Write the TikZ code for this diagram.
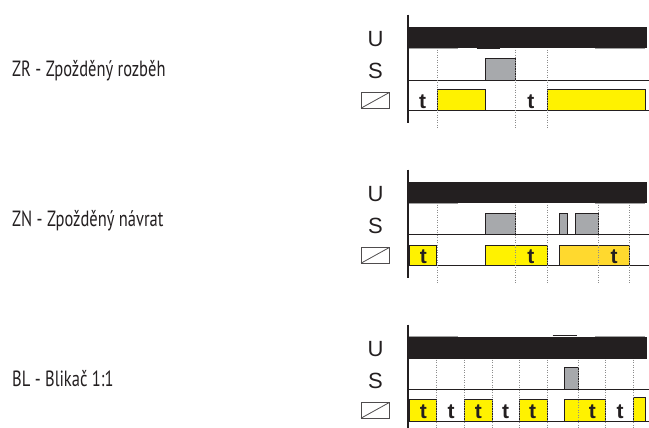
\documentclass[tikz,border=0pt]{standalone}
\usepackage{fontspec}
\setmainfont{Liberation Sans}
\newfontfamily\labelfont[FakeStretch=0.75]{PT Sans}
\definecolor{ink}{HTML}{231F20}
\definecolor{sgray}{HTML}{A7A9AC}
\definecolor{relyel}{HTML}{FFF200}
\definecolor{relgold}{HTML}{FFD92E}
\definecolor{dotgray}{HTML}{8C8C8C}
\definecolor{ghost}{HTML}{A0A0A0}
\tikzset{
  x=1pt, y=-1pt,
  axisline/.style={draw=ink, line width=1.2pt},
  baseline/.style={draw=ink, line width=1pt},
  ubar/.style={fill=ink, draw=none},
  sbox/.style={fill=sgray, draw=ink, line width=0.8pt},
  ybox/.style={fill=relyel, draw=ink, line width=0.8pt},
  gbox/.style={fill=relgold, draw=ink, line width=0.8pt},
  tick/.style={draw=dotgray, line width=0.6pt, dash pattern=on 1pt off 1.5pt},
  ghostline/.style={draw=ghost, line width=1pt},
  lbl/.style={anchor=base west, inner sep=0pt, text=ink, font=\labelfont\fontsize{22}{26}\selectfont},
  sig/.style={anchor=base, inner sep=0pt, text=ink, font=\fontsize{22}{26}\selectfont},
  tlbl/.style={anchor=base, inner sep=0pt, text=ink, font=\bfseries\fontsize{21}{24}\selectfont},
  relay/.style={draw=ink!80, line width=0.8pt}
}
\newcommand{\panelframe}[1]{%
  \draw[relay] (361,66) rectangle (389,81.5);
  \draw[relay] (361,81.5) -- (389,66);
  \node[sig] (#1U) at (375.5,20) {U};
  \node[sig] (#1S) at (375.5,51.8) {S};
}
\begin{document}
\begin{tikzpicture}
\useasboundingbox (0,0) rectangle (649,428);
% labels
\node[lbl] (zr) at (12,76.5) {ZR - Zpožděný rozběh};
\node[lbl] (zn) at (12,226.5) {ZN - Zpožděný návrat};
\node[lbl] (bl) at (12,386.5) {BL - Blikač 1:1};

% ---------------- panel 1
\begin{scope}[shift={(0,26.7)}]
  \panelframe{a}
  \fill[ubar] (408,0) rectangle (646.7,21.6);
  \draw[ghostline] (408,22) -- (458,22);
  \draw[ghostline] (595,22) -- (645,22);
  \draw[draw=ink, line width=1pt] (476.7,22) -- (500,22);
  \draw[sbox] (485.3,31.6) rectangle (515,53.5);
  \draw[ybox] (437.3,62.8) rectangle (485.3,84.2);
  \draw[ybox] (547.3,62.8) rectangle (645.7,84.2);
  \draw[baseline] (408,53.5) -- (649,53.5);
  \draw[baseline] (408,84.2) -- (649,84.2);
  \foreach \x in {437.3,515,547.3} \draw[tick] (\x,23) -- (\x,101);
  \draw[axisline] (408,-12) -- (408,96);
  \node[tlbl] (a1) at (422.5,82.3) {t};
  \node[tlbl] (a2) at (530.8,82.3) {t};
\end{scope}

% ---------------- panel 2
\begin{scope}[shift={(0,181.7)}]
  \panelframe{b}
  \fill[ubar] (408,0) rectangle (646.7,21.6);
  \draw[ghostline] (408,22) -- (458,22);
  \draw[ghostline] (595,22) -- (645,22);
  \draw[sbox] (485.3,31.6) rectangle (515,52.6);
  \draw[sbox] (559.3,31.6) rectangle (567.3,52.6);
  \draw[sbox] (575,31.6) rectangle (598.7,52.6);
  \draw[ybox] (409.3,63.3) rectangle (436.7,84);
  \draw[ybox] (485.3,63.3) rectangle (547.3,84);
  \draw[gbox] (559.3,63.3) rectangle (629.3,84);
  \draw[baseline] (408,52.6) -- (649,52.6);
  \draw[baseline] (408,84) -- (649,84);
  \foreach \x in {437.3,515,547.3,598.7,629.3} \draw[tick] (\x,23) -- (\x,101);
  \draw[axisline] (408,-12) -- (408,96);
  \node[tlbl] (b1) at (423.3,81.3) {t};
  \node[tlbl] (b2) at (530.8,81.3) {t};
  \node[tlbl] (b3) at (614,81.3) {t};
\end{scope}

% ---------------- panel 3
\begin{scope}[shift={(0,336.7)}]
  \panelframe{c}
  \fill[ubar] (408,0) rectangle (646.7,22.3);
  \draw[ghostline] (408,-0.5) -- (458,-0.5);
  \draw[ghostline] (595,-0.5) -- (645,-0.5);
  \draw[draw=ink, line width=1pt] (552.7,-1.5) -- (576.7,-1.5);
  \draw[sbox] (564.3,30.6) rectangle (578.3,52.6);
  \draw[ybox] (409.3,62.6) rectangle (436.7,84.3);
  \draw[ybox] (464.3,62.6) rectangle (492.3,84.3);
  \draw[ybox] (519.3,62.6) rectangle (547.3,84.3);
  \draw[ybox] (564.3,62.6) rectangle (605.7,84.3);
  \draw[ybox] (633.3,60.6) rectangle (645,84.3);
  \draw[baseline] (408,52.6) -- (649,52.6);
  \draw[baseline] (408,84.3) -- (649,84.3);
  \foreach \x in {436.7,464.3,492.3,519.3,547.3,578.3,605.7,633.3} \draw[tick] (\x,23) -- (\x,101);
  \draw[axisline] (408,-12) -- (408,96);
  \foreach \x/\n in {423.3/1,451/2,478.3/3,505.7/4,532.7/5,592.3/6,620/7}
    \node[tlbl] (c\n) at (\x,81.6) {t};
\end{scope}
\end{tikzpicture}
\end{document}
